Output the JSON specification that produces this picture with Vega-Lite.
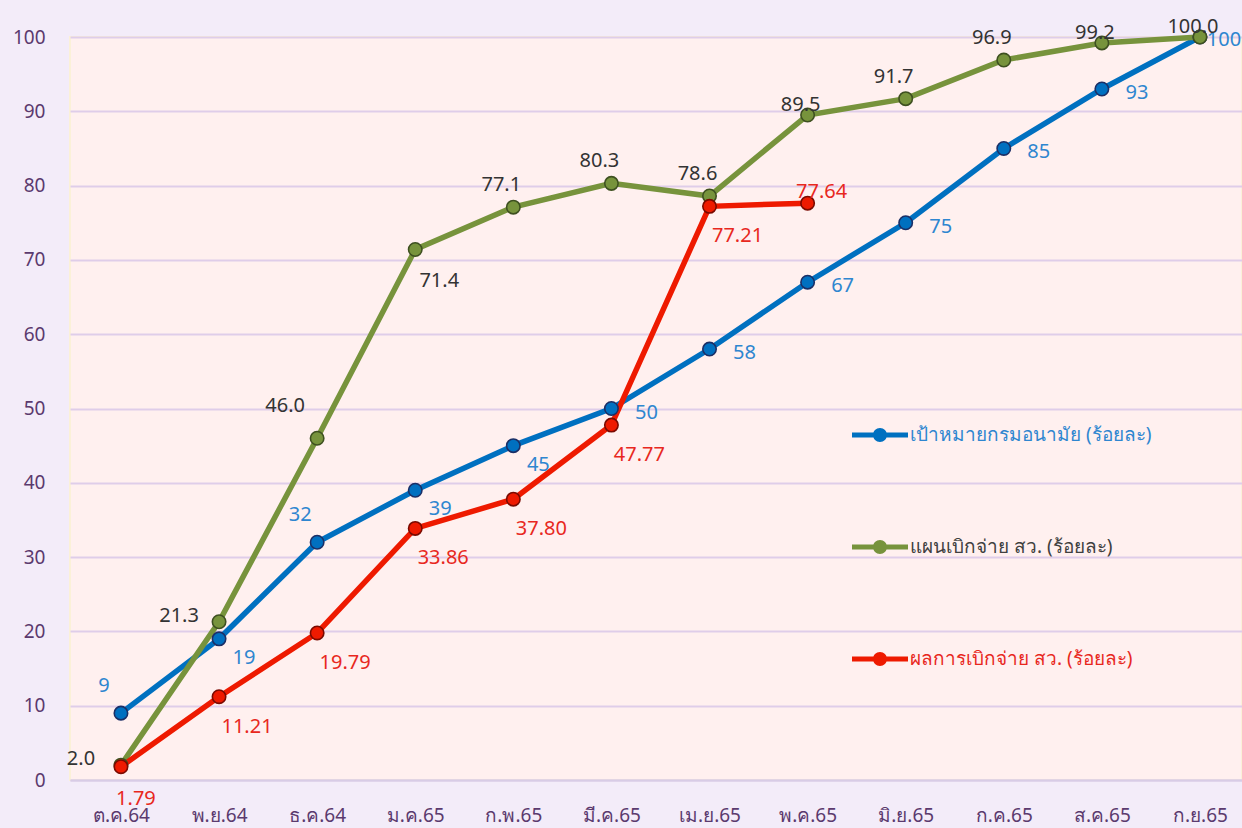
{
  "$schema": "https://vega.github.io/schema/vega-lite/v6.json",
  "width": 1172,
  "height": 743,
  "autosize": "none",
  "padding": {"left": 70, "top": 37, "right": 0, "bottom": 48},
  "background": "#f3ecf9",
  "config": {
    "font": "Noto Sans",
    "view": {"fill": "#fff0ef", "stroke": "#fbf1d8", "strokeWidth": 2}
  },
  "data": {
    "values": [
      {"month": "ต.ค.64", "series": "เป้าหมายกรมอนามัย (ร้อยละ)", "value": 9},
      {"month": "พ.ย.64", "series": "เป้าหมายกรมอนามัย (ร้อยละ)", "value": 19},
      {"month": "ธ.ค.64", "series": "เป้าหมายกรมอนามัย (ร้อยละ)", "value": 32},
      {"month": "ม.ค.65", "series": "เป้าหมายกรมอนามัย (ร้อยละ)", "value": 39},
      {"month": "ก.พ.65", "series": "เป้าหมายกรมอนามัย (ร้อยละ)", "value": 45},
      {"month": "มี.ค.65", "series": "เป้าหมายกรมอนามัย (ร้อยละ)", "value": 50},
      {"month": "เม.ย.65", "series": "เป้าหมายกรมอนามัย (ร้อยละ)", "value": 58},
      {"month": "พ.ค.65", "series": "เป้าหมายกรมอนามัย (ร้อยละ)", "value": 67},
      {"month": "มิ.ย.65", "series": "เป้าหมายกรมอนามัย (ร้อยละ)", "value": 75},
      {"month": "ก.ค.65", "series": "เป้าหมายกรมอนามัย (ร้อยละ)", "value": 85},
      {"month": "ส.ค.65", "series": "เป้าหมายกรมอนามัย (ร้อยละ)", "value": 93},
      {"month": "ก.ย.65", "series": "เป้าหมายกรมอนามัย (ร้อยละ)", "value": 100},
      {"month": "ต.ค.64", "series": "แผนเบิกจ่าย สว. (ร้อยละ)", "value": 2.0},
      {"month": "พ.ย.64", "series": "แผนเบิกจ่าย สว. (ร้อยละ)", "value": 21.3},
      {"month": "ธ.ค.64", "series": "แผนเบิกจ่าย สว. (ร้อยละ)", "value": 46.0},
      {"month": "ม.ค.65", "series": "แผนเบิกจ่าย สว. (ร้อยละ)", "value": 71.4},
      {"month": "ก.พ.65", "series": "แผนเบิกจ่าย สว. (ร้อยละ)", "value": 77.1},
      {"month": "มี.ค.65", "series": "แผนเบิกจ่าย สว. (ร้อยละ)", "value": 80.3},
      {"month": "เม.ย.65", "series": "แผนเบิกจ่าย สว. (ร้อยละ)", "value": 78.6},
      {"month": "พ.ค.65", "series": "แผนเบิกจ่าย สว. (ร้อยละ)", "value": 89.5},
      {"month": "มิ.ย.65", "series": "แผนเบิกจ่าย สว. (ร้อยละ)", "value": 91.7},
      {"month": "ก.ค.65", "series": "แผนเบิกจ่าย สว. (ร้อยละ)", "value": 96.9},
      {"month": "ส.ค.65", "series": "แผนเบิกจ่าย สว. (ร้อยละ)", "value": 99.2},
      {"month": "ก.ย.65", "series": "แผนเบิกจ่าย สว. (ร้อยละ)", "value": 100.0},
      {"month": "ต.ค.64", "series": "ผลการเบิกจ่าย สว. (ร้อยละ)", "value": 1.79},
      {"month": "พ.ย.64", "series": "ผลการเบิกจ่าย สว. (ร้อยละ)", "value": 11.21},
      {"month": "ธ.ค.64", "series": "ผลการเบิกจ่าย สว. (ร้อยละ)", "value": 19.79},
      {"month": "ม.ค.65", "series": "ผลการเบิกจ่าย สว. (ร้อยละ)", "value": 33.86},
      {"month": "ก.พ.65", "series": "ผลการเบิกจ่าย สว. (ร้อยละ)", "value": 37.80},
      {"month": "มี.ค.65", "series": "ผลการเบิกจ่าย สว. (ร้อยละ)", "value": 47.77},
      {"month": "เม.ย.65", "series": "ผลการเบิกจ่าย สว. (ร้อยละ)", "value": 77.21},
      {"month": "พ.ค.65", "series": "ผลการเบิกจ่าย สว. (ร้อยละ)", "value": 77.64}
    ]
  },
  "encoding": {
    "x": {
      "field": "month",
      "type": "ordinal",
      "sort": null,
      "scale": {"type": "point", "padding": 0.474, "align": 0.548},
      "axis": {
        "title": null,
        "labelAngle": 0,
        "labelFontSize": 19,
        "labelColor": "#5b3a6e",
        "labelPadding": 26,
        "ticks": false,
        "domainColor": "#d8cce6",
        "domainWidth": 2,
        "grid": false
      }
    },
    "y": {
      "field": "value",
      "type": "quantitative",
      "scale": {"domain": [0, 100], "nice": false},
      "axis": {
        "title": null,
        "values": [0, 10, 20, 30, 40, 50, 60, 70, 80, 90, 100],
        "labelFontSize": 19,
        "labelColor": "#5b3a6e",
        "labelPadding": 25,
        "ticks": false,
        "domain": false,
        "gridColor": "#dfcde9",
        "gridWidth": 2
      }
    }
  },
  "layer": [
    {
      "mark": {"type": "line", "strokeWidth": 5.5},
      "encoding": {
        "color": {
          "field": "series",
          "type": "nominal",
          "sort": null,
          "scale": {
            "domain": ["เป้าหมายกรมอนามัย (ร้อยละ)", "แผนเบิกจ่าย สว. (ร้อยละ)", "ผลการเบิกจ่าย สว. (ร้อยละ)"],
            "range": ["#0070c0", "#77933c", "#ee1a00"]
          },
          "legend": {
            "title": null,
            "orient": "none",
            "legendX": 796,
            "legendY": 384,
            "padding": 0,
            "symbolType": "M-2,-0.18H2V0.18H-2Z M-0.5,0A0.5,0.5,0,1,1,0.5,0A0.5,0.5,0,1,1,-0.5,0Z",
            "symbolSize": 784,
            "symbolStrokeWidth": 0,
            "symbolOpacity": 1,
            "labelOffset": 16,
            "labelFontSize": 19,
            "labelLimit": 400,
            "rowPadding": 88,
            "encode": {
              "labels": {
                "update": {
                  "fill": {"signal": "datum.value === 'เป้าหมายกรมอนามัย (ร้อยละ)' ? '#2e86d0' : datum.value === 'ผลการเบิกจ่าย สว. (ร้อยละ)' ? '#e8281e' : '#404040'"}
                }
              },
              "symbols": {
                "update": {
                  "fill": {"signal": "datum.value === 'เป้าหมายกรมอนามัย (ร้อยละ)' ? '#0070c0' : datum.value === 'ผลการเบิกจ่าย สว. (ร้อยละ)' ? '#ee1a00' : '#77933c'"},
                  "strokeWidth": {"value": 0},
                  "opacity": {"value": 1}
                }
              }
            }
          }
        }
      }
    },
    {
      "mark": {"type": "point", "filled": true, "size": 180, "strokeWidth": 1.6, "opacity": 1},
      "encoding": {
        "color": {"field": "series", "type": "nominal", "sort": null},
        "stroke": {
          "field": "series",
          "type": "nominal",
          "scale": {
            "domain": ["เป้าหมายกรมอนามัย (ร้อยละ)", "แผนเบิกจ่าย สว. (ร้อยละ)", "ผลการเบิกจ่าย สว. (ร้อยละ)"],
            "range": ["#1b2f66", "#3e5020", "#7a0a00"]
          },
          "legend": null
        }
      }
    },
    {
      "transform": [{"filter": "datum.series === 'เป้าหมายกรมอนามัย (ร้อยละ)' && indexof(['ต.ค.64','พ.ย.64','ธ.ค.64','ม.ค.65','ก.พ.65','ก.ย.65'], datum.month) < 0"}],
      "mark": {"type": "text", "fontSize": 20, "color": "#2e86d0", "dx": 35, "dy": 4, "baseline": "middle"},
      "encoding": {"text": {"field": "value", "format": "d"}}
    },
    {
      "transform": [{"filter": "datum.series === 'เป้าหมายกรมอนามัย (ร้อยละ)' && datum.month === 'ก.ย.65'"}],
      "mark": {"type": "text", "fontSize": 20, "color": "#2e86d0", "dx": 24, "dy": 3, "baseline": "middle"},
      "encoding": {"text": {"field": "value", "format": "d"}}
    },
    {
      "transform": [{"filter": "datum.series === 'เป้าหมายกรมอนามัย (ร้อยละ)' && indexof(['ต.ค.64','ธ.ค.64'], datum.month) >= 0"}],
      "mark": {"type": "text", "fontSize": 20, "color": "#2e86d0", "dx": -17, "dy": -27, "baseline": "middle"},
      "encoding": {"text": {"field": "value", "format": "d"}}
    },
    {
      "transform": [{"filter": "datum.series === 'เป้าหมายกรมอนามัย (ร้อยละ)' && indexof(['พ.ย.64','ม.ค.65','ก.พ.65'], datum.month) >= 0"}],
      "mark": {"type": "text", "fontSize": 20, "color": "#2e86d0", "dx": 25, "dy": 19, "baseline": "middle"},
      "encoding": {"text": {"field": "value", "format": "d"}}
    },
    {
      "transform": [{"filter": "datum.series === 'แผนเบิกจ่าย สว. (ร้อยละ)' && indexof(['ต.ค.64','พ.ย.64','ธ.ค.64','ม.ค.65','พ.ค.65','ส.ค.65','ก.ย.65'], datum.month) < 0"}],
      "mark": {"type": "text", "fontSize": 20, "color": "#333333", "dx": -12, "dy": -22, "baseline": "middle"},
      "encoding": {"text": {"field": "value", "format": ".1f"}}
    },
    {
      "transform": [{"filter": "datum.series === 'แผนเบิกจ่าย สว. (ร้อยละ)' && indexof(['พ.ค.65','ส.ค.65','ก.ย.65'], datum.month) >= 0"}],
      "mark": {"type": "text", "fontSize": 20, "color": "#333333", "dx": -7, "dy": -10, "baseline": "middle"},
      "encoding": {"text": {"field": "value", "format": ".1f"}}
    },
    {
      "transform": [{"filter": "datum.series === 'แผนเบิกจ่าย สว. (ร้อยละ)' && indexof(['ต.ค.64','พ.ย.64'], datum.month) >= 0"}],
      "mark": {"type": "text", "fontSize": 20, "color": "#333333", "dx": -40, "dy": -6, "baseline": "middle"},
      "encoding": {"text": {"field": "value", "format": ".1f"}}
    },
    {
      "transform": [{"filter": "datum.series === 'แผนเบิกจ่าย สว. (ร้อยละ)' && datum.month === 'ธ.ค.64'"}],
      "mark": {"type": "text", "fontSize": 20, "color": "#333333", "dx": -32, "dy": -32, "baseline": "middle"},
      "encoding": {"text": {"field": "value", "format": ".1f"}}
    },
    {
      "transform": [{"filter": "datum.series === 'แผนเบิกจ่าย สว. (ร้อยละ)' && datum.month === 'ม.ค.65'"}],
      "mark": {"type": "text", "fontSize": 20, "color": "#333333", "dx": 24, "dy": 32, "baseline": "middle"},
      "encoding": {"text": {"field": "value", "format": ".1f"}}
    },
    {
      "transform": [{"filter": "datum.series === 'ผลการเบิกจ่าย สว. (ร้อยละ)' && indexof(['ต.ค.64','พ.ค.65'], datum.month) < 0"}],
      "mark": {"type": "text", "fontSize": 20, "color": "#e8281e", "dx": 28, "dy": 30, "baseline": "middle"},
      "encoding": {"text": {"field": "value", "format": ".2f"}}
    },
    {
      "transform": [{"filter": "datum.series === 'ผลการเบิกจ่าย สว. (ร้อยละ)' && datum.month === 'ต.ค.64'"}],
      "mark": {"type": "text", "fontSize": 20, "color": "#e8281e", "dx": 15, "dy": 32, "baseline": "middle"},
      "encoding": {"text": {"field": "value", "format": ".2f"}}
    },
    {
      "transform": [{"filter": "datum.series === 'ผลการเบิกจ่าย สว. (ร้อยละ)' && datum.month === 'พ.ค.65'"}],
      "mark": {"type": "text", "fontSize": 20, "color": "#e8281e", "dx": 14, "dy": -11, "baseline": "middle"},
      "encoding": {"text": {"field": "value", "format": ".2f"}}
    }
  ]
}
